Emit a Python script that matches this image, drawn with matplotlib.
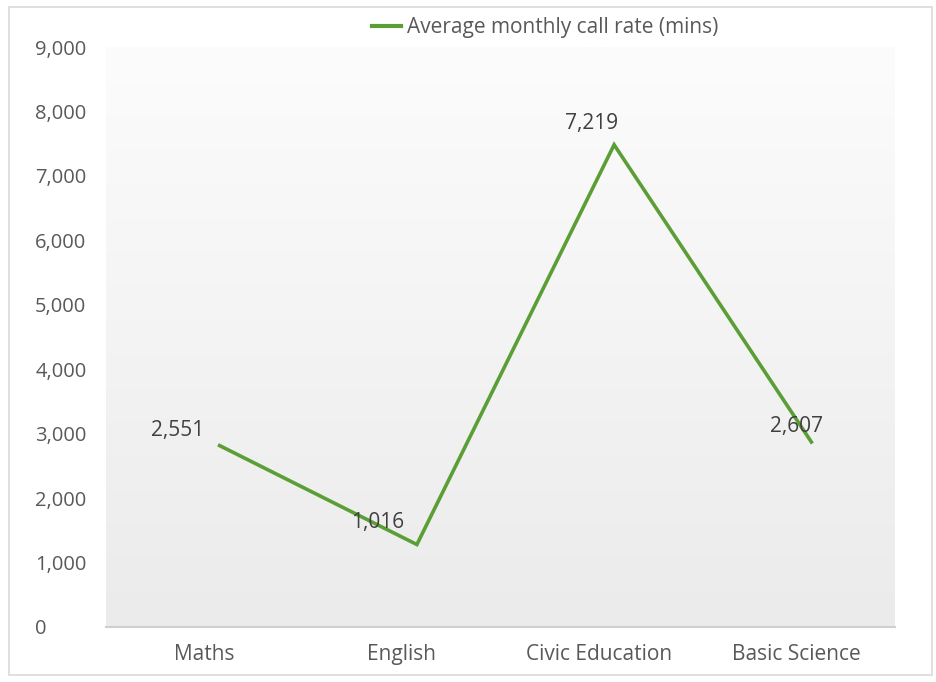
import numpy as np
import matplotlib
matplotlib.use('Agg')
import matplotlib.pyplot as plt
import matplotlib.transforms as mtransforms
from matplotlib.ticker import FuncFormatter

subjects = ['Maths', 'English', 'Civic Education', 'Basic Science']
call_rate = [2551, 1016, 7219, 2607]
call_rate_labels = ['2,551', '1,016', '7,219', '2,607']
series_name = 'Average monthly call rate (mins)'
y_ticks = list(range(0, 9001, 1000))

# label offsets (pixels) from each point, as placed in the original
label_offsets = [(-27, 32), (-24, 39), (-8, 38), (0, 32)]

plt.rcParams['font.family'] = ['Open Sans', 'DejaVu Sans']
text_col = '#595959'
green = '#5b9e36'

fig = plt.figure(figsize=(9.36, 6.82), dpi=100)
ax = fig.add_axes([106 / 936, 1 - 627 / 682, (895 - 106) / 936, (627 - 47) / 682])

# light gray border round the chart
fig.patches.append(plt.Rectangle((9 / 936, 7 / 682), 923 / 936, 668 / 682, transform=fig.transFigure,
                                 fill=False, edgecolor='#d9d9d9', lw=1.2))

# vertical gradient in the plot area
grad = np.linspace(0, 1, 256).reshape(-1, 1)
ax.imshow(grad, extent=[-0.5, 3.5, 0, 9000], aspect='auto', origin='lower',
          cmap=matplotlib.colors.LinearSegmentedColormap.from_list('g', ['#ebebeb', '#fcfcfc']),
          zorder=0)

x = np.arange(len(subjects))
# the line sits slightly up and right of its labels in the original
shifted = mtransforms.offset_copy(ax.transData, fig=fig, x=15, y=17, units='dots')
ax.plot(x, call_rate, color=green, lw=2.6, transform=shifted, solid_joinstyle='miter', zorder=3)
for xi, v, lab, (dx, dy) in zip(x, call_rate, call_rate_labels, label_offsets):
    ax.annotate(lab, (xi, v), xytext=(dx, dy), textcoords='offset pixels', ha='center', va='center',
                fontsize=15, color='#404040', zorder=4)

ax.set_xlim(-0.5, 3.5)
ax.set_ylim(0, 9000)
ax.set_xticks(x)
ax.set_xticklabels(subjects, fontsize=15, color=text_col)
ax.set_yticks(y_ticks)
ax.yaxis.set_major_formatter(FuncFormatter(lambda v, p: f'{int(v):,}'))
# y labels are left aligned in the original
ax.tick_params(axis='y', labelsize=14.5, labelcolor=text_col, length=0, pad=51)
for t in ax.get_yticklabels():
    t.set_horizontalalignment('left')
ax.tick_params(axis='x', length=0, pad=12)
for s in ['top', 'right', 'left']:
    ax.spines[s].set_visible(False)
ax.spines['bottom'].set_color('#d0d0d0')
ax.spines['bottom'].set_linewidth(1.5)

# legend above the plot
fig.legend([plt.Line2D([], [], color=green, lw=3)], [series_name], loc='center',
           bbox_to_anchor=(545 / 936, 1 - 28 / 682), frameon=False, fontsize=15,
           handlelength=1.4, handletextpad=0.3, labelcolor=text_col)

fig.savefig('out.png', dpi=100, facecolor='white')
